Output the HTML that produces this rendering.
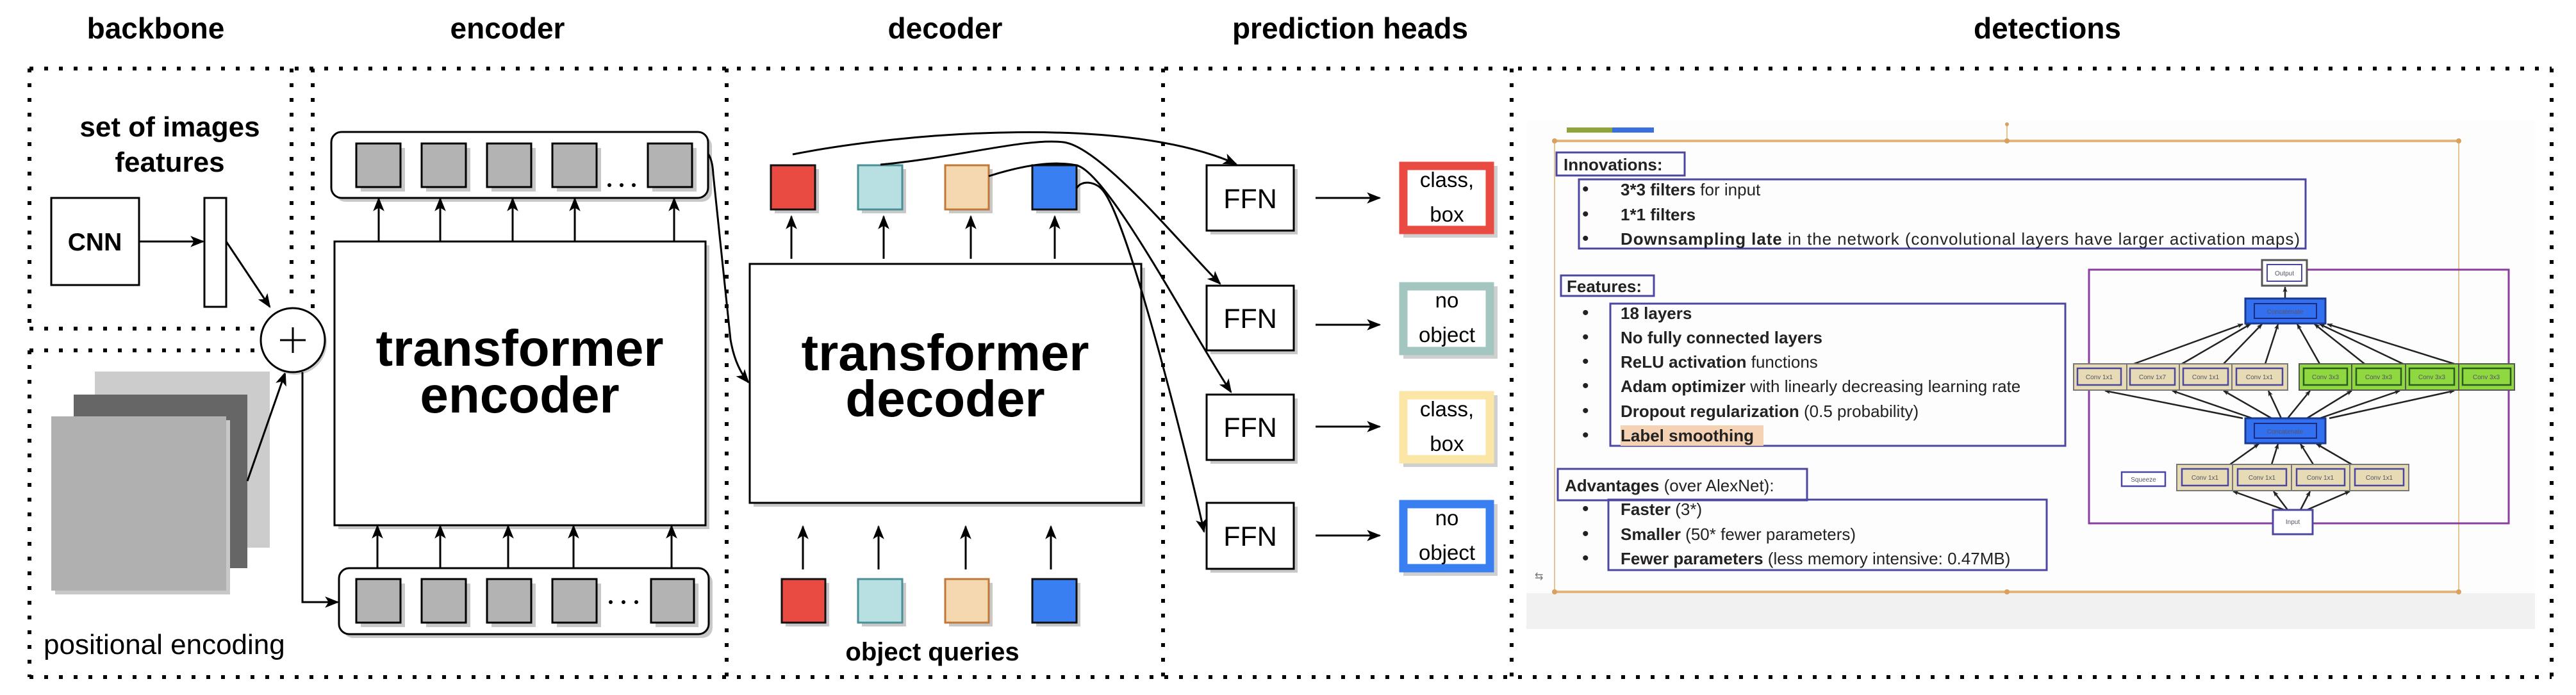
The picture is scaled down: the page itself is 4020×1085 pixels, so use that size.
<!DOCTYPE html>
<html><head><meta charset="utf-8"><style>
html,body{margin:0;padding:0;background:#fff;width:4020px;height:1085px;overflow:hidden}
svg{display:block}
text{font-family:"Liberation Sans",sans-serif}
</style></head><body>
<svg width="4020" height="1085" viewBox="0 0 4020 1085" xmlns="http://www.w3.org/2000/svg">
<defs>
<marker id="ar" viewBox="0 0 20 20" refX="18" refY="10" markerWidth="22" markerHeight="22" markerUnits="userSpaceOnUse" orient="auto">
<path d="M0,2 L20,10 L0,18 L5,10 Z" fill="#000"/></marker>
<marker id="as" viewBox="0 0 20 20" refX="18" refY="10" markerWidth="9" markerHeight="9" markerUnits="userSpaceOnUse" orient="auto">
<path d="M0,2 L20,10 L0,18 L5,10 Z" fill="#222"/></marker>
</defs>

<!-- titles -->
<g font-weight="bold" font-size="46" text-anchor="middle" fill="#000">
<text x="243" y="60">backbone</text>
<text x="792" y="60">encoder</text>
<text x="1475" y="60">decoder</text>
<text x="2107" y="60">prediction heads</text>
<text x="3195" y="60">detections</text>
</g>

<!-- dotted frames -->
<g stroke="#000" stroke-width="6" stroke-dasharray="6 17" fill="none">
<line x1="46" y1="107" x2="3982" y2="107"/>
<line x1="46" y1="1057" x2="3982" y2="1057"/>
<line x1="46" y1="107" x2="46" y2="513"/>
<line x1="46" y1="547" x2="46" y2="1057"/>
<line x1="46" y1="513" x2="410" y2="513"/>
<line x1="46" y1="547" x2="410" y2="547"/>
<line x1="455" y1="107" x2="455" y2="470"/>
<line x1="488" y1="107" x2="488" y2="484"/>
<line x1="1134" y1="107" x2="1134" y2="1057"/>
<line x1="1815" y1="107" x2="1815" y2="1057"/>
<line x1="2359" y1="107" x2="2359" y2="1057"/>
<line x1="3982" y1="107" x2="3982" y2="1057"/>
</g>

<!-- backbone -->
<g font-weight="bold" font-size="44" text-anchor="middle">
<text x="265" y="213">set of images</text>
<text x="265" y="268">features</text>
</g>
<rect x="80" y="309" width="137" height="136" fill="#fff" stroke="#000" stroke-width="3"/>
<text x="148" y="391" font-size="39" font-weight="bold" text-anchor="middle">CNN</text>
<rect x="319" y="309" width="34" height="170" fill="#fff" stroke="#000" stroke-width="3"/>
<line x1="217" y1="377" x2="317" y2="377" stroke="#000" stroke-width="3" marker-end="url(#ar)"/>
<line x1="353" y1="377" x2="421" y2="479" stroke="#000" stroke-width="3" marker-end="url(#ar)"/>

<!-- positional stack -->
<rect x="148" y="580" width="273" height="275" fill="#cccccc"/>
<rect x="115" y="616" width="271" height="271" fill="#666"/>
<rect x="86" y="656" width="273" height="272" fill="#c8c8c8"/>
<rect x="80" y="650" width="273" height="272" fill="#b0b0b0"/>
<line x1="386" y1="751" x2="445" y2="582" stroke="#000" stroke-width="3" marker-end="url(#ar)"/>
<text x="68" y="1021" font-size="44">positional encoding</text>

<!-- plus circle -->
<circle cx="460" cy="535" r="50" fill="#ccc"/>
<circle cx="457" cy="531" r="50" fill="#fff" stroke="#000" stroke-width="3"/>
<line x1="437" y1="531" x2="477" y2="531" stroke="#000" stroke-width="3"/>
<line x1="457" y1="511" x2="457" y2="551" stroke="#000" stroke-width="3"/>
<polyline points="472,581 472,940 527,940" fill="none" stroke="#000" stroke-width="3" marker-end="url(#ar)"/>

<!-- encoder -->
<rect x="523" y="212" width="588" height="103" rx="16" fill="#c8c8c8"/>
<rect x="517" y="206" width="588" height="103" rx="16" fill="#fff" stroke="#000" stroke-width="3"/>
<rect x="535" y="893" width="577" height="103" rx="16" fill="#c8c8c8"/>
<rect x="529" y="887" width="577" height="103" rx="16" fill="#fff" stroke="#000" stroke-width="3"/>
<g stroke="#000" stroke-width="3">
<g fill="#c8c8c8" stroke="none">
<rect x="563" y="231" width="69" height="68"/><rect x="665" y="231" width="69" height="68"/><rect x="767" y="231" width="69" height="68"/><rect x="869" y="231" width="69" height="68"/><rect x="1018" y="231" width="69" height="68"/>
<rect x="563" y="911" width="69" height="68"/><rect x="665" y="911" width="69" height="68"/><rect x="767" y="911" width="69" height="68"/><rect x="869" y="911" width="69" height="68"/><rect x="1023" y="911" width="67" height="68"/>
</g>
<g fill="#b3b3b3">
<rect x="556" y="224" width="69" height="68"/><rect x="658" y="224" width="69" height="68"/><rect x="760" y="224" width="69" height="68"/><rect x="862" y="224" width="69" height="68"/><rect x="1011" y="224" width="69" height="68"/>
<rect x="556" y="904" width="69" height="68"/><rect x="658" y="904" width="69" height="68"/><rect x="760" y="904" width="69" height="68"/><rect x="862" y="904" width="69" height="68"/><rect x="1016" y="904" width="67" height="68"/>
</g>
</g>
<g fill="#000"><circle cx="951" cy="289" r="3"/><circle cx="970" cy="289" r="3"/><circle cx="989" cy="289" r="3"/>
<circle cx="953" cy="940" r="3"/><circle cx="973" cy="940" r="3"/><circle cx="993" cy="940" r="3"/></g>

<rect x="528" y="383" width="579" height="443" fill="#c8c8c8"/>
<rect x="522" y="377" width="579" height="443" fill="#fff" stroke="#000" stroke-width="3"/>
<g font-weight="bold" font-size="80" text-anchor="middle"><text x="811" y="571">transformer</text><text x="811" y="644">encoder</text></g>
<g stroke="#000" stroke-width="3" marker-end="url(#ar)">
<line x1="591" y1="377" x2="591" y2="310"/><line x1="687" y1="377" x2="687" y2="310"/><line x1="800" y1="377" x2="800" y2="310"/><line x1="897" y1="377" x2="897" y2="310"/><line x1="1052" y1="377" x2="1052" y2="310"/>
<line x1="589" y1="887" x2="589" y2="821"/><line x1="687" y1="887" x2="687" y2="821"/><line x1="793" y1="887" x2="793" y2="821"/><line x1="895" y1="887" x2="895" y2="821"/><line x1="1048" y1="887" x2="1048" y2="821"/>
</g>
<path d="M1105,240 Q1112,250 1113,272 L1140,530 Q1147,572 1168,597" fill="none" stroke="#000" stroke-width="3" marker-end="url(#ar)"/>

<!-- decoder -->
<rect x="1176" y="418" width="611" height="373" fill="#c8c8c8"/>
<rect x="1170" y="412" width="611" height="373" fill="#fff" stroke="#000" stroke-width="3"/>
<g font-weight="bold" font-size="80" text-anchor="middle"><text x="1475" y="578">transformer</text><text x="1475" y="650">decoder</text></g>
<g fill="#c8c8c8">
<rect x="1209" y="264" width="69" height="69"/><rect x="1345" y="264" width="69" height="69"/><rect x="1481" y="264" width="68" height="69"/><rect x="1617" y="264" width="69" height="69"/>
<rect x="1226" y="910" width="68" height="68"/><rect x="1345" y="910" width="69" height="68"/><rect x="1481" y="910" width="68" height="68"/><rect x="1617" y="910" width="69" height="68"/>
</g>
<g stroke-width="3">
<rect x="1203" y="258" width="69" height="69" fill="#e94b42" stroke="#111"/>
<rect x="1339" y="258" width="69" height="69" fill="#b8e0e3" stroke="#4a8f96"/>
<rect x="1475" y="258" width="68" height="69" fill="#f5d7b0" stroke="#c0783a"/>
<rect x="1611" y="258" width="69" height="69" fill="#3a7ff2" stroke="#111"/>
<rect x="1220" y="904" width="68" height="68" fill="#e94b42" stroke="#111"/>
<rect x="1339" y="904" width="69" height="68" fill="#b8e0e3" stroke="#4a8f96"/>
<rect x="1475" y="904" width="68" height="68" fill="#f5d7b0" stroke="#c0783a"/>
<rect x="1611" y="904" width="69" height="68" fill="#3a7ff2" stroke="#111"/>
</g>
<g stroke="#000" stroke-width="3" marker-end="url(#ar)">
<line x1="1235" y1="404" x2="1235" y2="338"/><line x1="1379" y1="404" x2="1379" y2="338"/><line x1="1515" y1="404" x2="1515" y2="338"/><line x1="1646" y1="404" x2="1646" y2="338"/>
<line x1="1253" y1="889" x2="1253" y2="822"/><line x1="1371" y1="889" x2="1371" y2="822"/><line x1="1507" y1="889" x2="1507" y2="822"/><line x1="1640" y1="889" x2="1640" y2="822"/>
</g>
<text x="1455" y="1031" font-size="40" font-weight="bold" text-anchor="middle">object queries</text>

<!-- curves -->
<g fill="none" stroke="#000" stroke-width="3" marker-end="url(#ar)">
<path d="M1237,241 C1420,205 1760,180 1929,256"/>
<path d="M1374,257 C1500,245 1600,215 1660,222 C1720,230 1850,390 1904,443"/>
<path d="M1543,275 C1590,260 1640,250 1680,258 C1730,270 1860,520 1921,612"/>
<path d="M1680,294 C1688,280 1710,284 1720,296 C1760,340 1850,700 1879,830"/>
</g>

<!-- FFN + outputs -->
<g>
<rect x="1889" y="264" width="136" height="102" fill="#c8c8c8"/><rect x="1883" y="258" width="136" height="102" fill="#fff" stroke="#000" stroke-width="3"/>
<rect x="1889" y="452" width="136" height="101" fill="#c8c8c8"/><rect x="1883" y="446" width="136" height="101" fill="#fff" stroke="#000" stroke-width="3"/>
<rect x="1889" y="622" width="136" height="102" fill="#c8c8c8"/><rect x="1883" y="616" width="136" height="102" fill="#fff" stroke="#000" stroke-width="3"/>
<rect x="1889" y="791" width="136" height="103" fill="#c8c8c8"/><rect x="1883" y="785" width="136" height="103" fill="#fff" stroke="#000" stroke-width="3"/>
</g>
<g font-size="43" text-anchor="middle"><text x="1951" y="325">FFN</text><text x="1951" y="512">FFN</text><text x="1951" y="682">FFN</text><text x="1951" y="852">FFN</text></g>
<g stroke="#000" stroke-width="3" marker-end="url(#ar)">
<line x1="2053" y1="309" x2="2153" y2="309"/><line x1="2053" y1="507" x2="2153" y2="507"/><line x1="2053" y1="666" x2="2153" y2="666"/><line x1="2053" y1="836" x2="2153" y2="836"/>
</g>
<g fill="#cfcfcf"><rect x="2190" y="259" width="147" height="112"/><rect x="2190" y="447" width="147" height="113"/><rect x="2190" y="617" width="147" height="112"/><rect x="2190" y="787" width="147" height="112"/></g>
<g fill="#fff" stroke-width="13">
<rect x="2190" y="259" width="135" height="100" stroke="#e94b42"/>
<rect x="2190" y="447" width="135" height="101" stroke="#a3c7c0"/>
<rect x="2190" y="617" width="135" height="100" stroke="#fbe6a6"/>
<rect x="2190" y="787" width="135" height="100" stroke="#3a7ff2"/>
</g>
<g font-size="33" text-anchor="middle">
<text x="2258" y="292">class,</text><text x="2258" y="346">box</text>
<text x="2258" y="480">no</text><text x="2258" y="534">object</text>
<text x="2258" y="650">class,</text><text x="2258" y="704">box</text>
<text x="2258" y="820">no</text><text x="2258" y="874">object</text>
</g>

<!-- detections screenshot -->
<rect x="2382" y="188" width="1574" height="794" fill="#fdfdfd"/>
<rect x="2382" y="926" width="1574" height="56" fill="#f1f1f1"/>
<rect x="2445" y="199" width="71" height="8" fill="#8ea33a"/><rect x="2516" y="199" width="65" height="8" fill="#3a6fe0"/>
<g stroke="#e2b57a" stroke-width="4" fill="none"><line x1="2426" y1="220" x2="3837" y2="220"/><line x1="2426" y1="924" x2="3837" y2="924"/></g>
<g stroke="#e8c594" stroke-width="2" fill="none"><line x1="2426" y1="220" x2="2426" y2="924"/><line x1="3837" y1="220" x2="3837" y2="924"/><line x1="3132" y1="193" x2="3132" y2="222"/></g>
<g fill="#d9a060"><circle cx="3132" cy="194" r="3"/><circle cx="3132" cy="220" r="4"/><circle cx="2426" cy="220" r="4"/><circle cx="3837" cy="220" r="4"/><circle cx="3132" cy="924" r="4"/><circle cx="2426" cy="924" r="4"/><circle cx="3837" cy="924" r="4"/></g>
<g fill="none" stroke="#4b46a0" stroke-width="3">
<rect x="2429" y="238" width="200" height="36"/>
<rect x="2464" y="280" width="1134" height="108"/>
<rect x="2436" y="430" width="145" height="32"/>
<rect x="2513" y="474" width="710" height="222"/>
<rect x="2431" y="732" width="389" height="49"/>
<rect x="2510" y="780" width="684" height="110"/>
</g>
<rect x="2529" y="664" width="223" height="32" fill="#f6d2b4"/>
<g font-size="26" fill="#222">
<text x="2440" y="266" font-weight="bold">Innovations:</text>
<text x="2445" y="456" font-weight="bold">Features:</text>
<text x="2442" y="767"><tspan font-weight="bold">Advantages</tspan> (over AlexNet):</text>
<g font-size="30"><text x="2469" y="305">•</text><text x="2469" y="344">•</text><text x="2469" y="382">•</text>
<text x="2469" y="498">•</text><text x="2469" y="536">•</text><text x="2469" y="574">•</text><text x="2469" y="612">•</text><text x="2469" y="651">•</text><text x="2469" y="689">•</text>
<text x="2469" y="804">•</text><text x="2469" y="843">•</text><text x="2469" y="881">•</text></g>
<text x="2529" y="305"><tspan font-weight="bold">3*3 filters</tspan> for input</text>
<text x="2529" y="344" font-weight="bold">1*1 filters</text>
<text x="2529" y="382" textLength="1060"><tspan font-weight="bold">Downsampling late</tspan> in the network  (convolutional layers have larger activation maps)</text>
<text x="2529" y="498" font-weight="bold">18 layers</text>
<text x="2529" y="536" font-weight="bold">No fully connected layers</text>
<text x="2529" y="574"><tspan font-weight="bold">ReLU activation</tspan> functions</text>
<text x="2529" y="612"><tspan font-weight="bold">Adam optimizer</tspan> with linearly decreasing learning rate</text>
<text x="2529" y="651"><tspan font-weight="bold">Dropout regularization</tspan> (0.5 probability)</text>
<text x="2529" y="689" font-weight="bold">Label smoothing</text>
<text x="2529" y="804"><tspan font-weight="bold">Faster</tspan> (3*)</text>
<text x="2529" y="843"><tspan font-weight="bold">Smaller</tspan> (50* fewer parameters)</text>
<text x="2529" y="881"><tspan font-weight="bold">Fewer parameters</tspan> (less memory intensive: 0.47MB)</text>
</g>
<text x="2395" y="905" font-size="16" fill="#777">⇆</text>

<!-- network diagram -->
<rect x="3260" y="421" width="655" height="396" fill="none" stroke="#8a3ea0" stroke-width="3"/>
<g stroke="#222" stroke-width="2.5" marker-end="url(#as)">
<line x1="3566" y1="466" x2="3566" y2="448"/>
<line x1="3330" y1="568" x2="3500" y2="506"/><line x1="3405" y1="568" x2="3512" y2="506"/><line x1="3470" y1="568" x2="3530" y2="506"/><line x1="3535" y1="568" x2="3555" y2="506"/>
<line x1="3620" y1="568" x2="3585" y2="506"/><line x1="3690" y1="568" x2="3612" y2="506"/><line x1="3750" y1="568" x2="3620" y2="506"/><line x1="3830" y1="568" x2="3632" y2="506"/>
<line x1="3500" y1="653" x2="3285" y2="610"/><line x1="3515" y1="653" x2="3390" y2="610"/><line x1="3545" y1="653" x2="3470" y2="610"/><line x1="3560" y1="653" x2="3540" y2="610"/>
<line x1="3570" y1="653" x2="3605" y2="610"/><line x1="3600" y1="653" x2="3670" y2="610"/><line x1="3620" y1="653" x2="3745" y2="610"/><line x1="3635" y1="653" x2="3830" y2="610"/>
<line x1="3480" y1="725" x2="3525" y2="693"/><line x1="3545" y1="725" x2="3555" y2="693"/><line x1="3610" y1="725" x2="3590" y2="693"/><line x1="3670" y1="725" x2="3615" y2="693"/>
<line x1="3565" y1="796" x2="3485" y2="767"/><line x1="3570" y1="796" x2="3548" y2="767"/><line x1="3590" y1="796" x2="3605" y2="767"/><line x1="3600" y1="796" x2="3667" y2="767"/>
</g>
<rect x="3530" y="406" width="70" height="40" fill="#fff" stroke="#555" stroke-width="3"/>
<rect x="3538" y="413" width="54" height="26" fill="#fff" stroke="#4b46a0" stroke-width="2"/>
<rect x="3504" y="466" width="125" height="39" fill="#3370f0" stroke="#1a3a90" stroke-width="3"/>
<rect x="3518" y="474" width="97" height="23" fill="none" stroke="#1a2a80" stroke-width="2"/>
<rect x="3504" y="653" width="125" height="39" fill="#3370f0" stroke="#1a3a90" stroke-width="3"/>
<rect x="3518" y="661" width="97" height="23" fill="none" stroke="#1a2a80" stroke-width="2"/>
<g stroke="#777" stroke-width="2" fill="#e6dbb5">
<rect x="3236" y="568" width="83" height="41"/><rect x="3319" y="568" width="82" height="41"/><rect x="3401" y="568" width="82" height="41"/><rect x="3483" y="568" width="87" height="41"/>
<rect x="3397" y="725" width="87" height="41"/><rect x="3484" y="725" width="92" height="41"/><rect x="3576" y="725" width="91" height="41"/><rect x="3667" y="725" width="92" height="41"/>
</g>
<g stroke="#555" stroke-width="2" fill="#8fd83f">
<rect x="3588" y="568" width="82" height="41"/><rect x="3670" y="568" width="84" height="41"/><rect x="3754" y="568" width="83" height="41"/><rect x="3837" y="568" width="87" height="41"/>
</g>
<g fill="none" stroke="#4b46a0" stroke-width="2.5">
<rect x="3242" y="575" width="68" height="26"/><rect x="3324" y="575" width="70" height="26"/><rect x="3407" y="575" width="70" height="26"/><rect x="3490" y="575" width="72" height="26"/>
<rect x="3405" y="732" width="72" height="26"/><rect x="3492" y="732" width="76" height="26"/><rect x="3584" y="732" width="75" height="26"/><rect x="3675" y="732" width="76" height="26"/>
<rect x="3311" y="737" width="68" height="22" fill="#fff"/>
</g>
<g fill="none" stroke="#2a5a20" stroke-width="2.5">
<rect x="3595" y="575" width="68" height="26"/><rect x="3677" y="575" width="70" height="26"/><rect x="3760" y="575" width="70" height="26"/><rect x="3843" y="575" width="75" height="26"/>
</g>
<rect x="3547" y="796" width="62" height="38" fill="#fff" stroke="#4b46a0" stroke-width="3"/>
<g font-size="10" fill="#556" text-anchor="middle">
<text x="3565" y="430">Output</text><text x="3566" y="490">Concatenate</text><text x="3566" y="677">Concatenate</text>
<text x="3276" y="592">Conv 1x1</text><text x="3359" y="592">Conv 1x7</text><text x="3442" y="592">Conv 1x1</text><text x="3526" y="592">Conv 1x1</text>
<text x="3629" y="592">Conv 3x3</text><text x="3712" y="592">Conv 3x3</text><text x="3795" y="592">Conv 3x3</text><text x="3880" y="592">Conv 3x3</text>
<text x="3441" y="749">Conv 1x1</text><text x="3530" y="749">Conv 1x1</text><text x="3621" y="749">Conv 1x1</text><text x="3713" y="749">Conv 1x1</text>
<text x="3345" y="752">Squeeze</text><text x="3578" y="818">Input</text>
</g>
</svg>
</body></html>
